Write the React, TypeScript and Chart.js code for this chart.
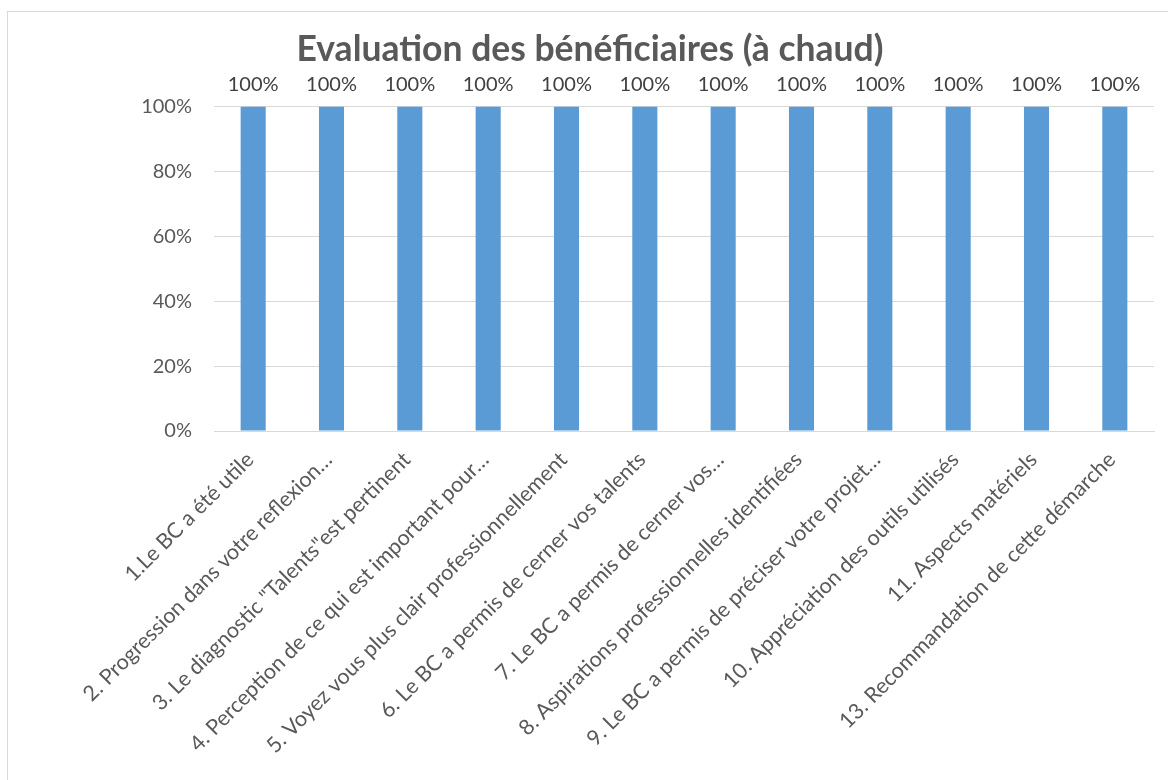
import React, { useEffect, useRef } from "react";
import { Chart, registerables } from "chart.js";

Chart.register(...registerables);

const TITLE = "Evaluation des bénéficiaires (à chaud)";

const categories = [
  "1.Le BC a été utile",
  "2. Progression dans votre reflexion…",
  "3. Le diagnostic \"Talents\"est pertinent",
  "4. Perception de ce qui est important pour…",
  "5. Voyez vous plus clair professionnellement",
  "6. Le BC a permis de cerner vos talents",
  "7. Le BC a permis de cerner vos…",
  "8. Aspirations professionnelles identifiées",
  "9. Le BC a permis de préciser votre projet…",
  "10. Appréciation des outils utilisés",
  "11. Aspects matériels",
  "13. Recommandation de cette démarche",
];

const values = [100, 100, 100, 100, 100, 100, 100, 100, 100, 100, 100, 100];

const FONT = "Lato, 'Open Sans', sans-serif";

const dataLabelPlugin = {
  id: "dataLabels",
  afterDatasetsDraw(chart: any) {
    const ctx = chart.ctx;
    const meta = chart.getDatasetMeta(0);
    const ds = chart.data.datasets[0];
    ctx.save();
    ctx.font = `20px ${FONT}`;
    ctx.fillStyle = "#404040";
    ctx.textAlign = "center";
    ctx.textBaseline = "bottom";
    meta.data.forEach((bar: any, i: number) => {
      ctx.fillText(`${ds.data[i]}%`, bar.x, bar.y - 12);
    });
    ctx.restore();
  },
};

export default function App() {
  const ref = useRef<HTMLCanvasElement | null>(null);

  useEffect(() => {
    if (!ref.current) return;
    const chart = new Chart(ref.current, {
      type: "bar",
      data: {
        labels: categories,
        datasets: [
          {
            data: values,
            backgroundColor: "#5b9bd5",
            categoryPercentage: 1,
            barPercentage: 0.32,
          },
        ],
      },
      options: {
        animation: false,
        responsive: false,
        layout: { padding: { left: 26, right: 14, top: 0, bottom: 0 } },
        plugins: {
          legend: { display: false },
          tooltip: { enabled: false },
          title: {
            display: true,
            text: TITLE,
            color: "#595959",
            font: { family: FONT, size: 35.5, weight: "bold", lineHeight: 1.2 },
            padding: { top: 28, bottom: 36 },
          },
        },
        scales: {
          x: {
            grid: { display: false, drawTicks: false },
            border: { display: true, color: "#d9d9d9", width: 1 },
            ticks: {
              color: "#595959",
              font: { family: FONT, size: 21.5 },
              minRotation: 45,
              maxRotation: 45,
              autoSkip: false,
              padding: 16,
              labelOffset: -3,
            },
            afterFit(scale: any) {
              scale.height = 349;
            },
          },
          y: {
            min: 0,
            max: 100,
            grid: { color: "#d9d9d9", drawTicks: false },
            border: { display: false },
            ticks: {
              stepSize: 20,
              color: "#595959",
              font: { family: FONT, size: 20 },
              padding: 22,
              callback: (v: any) => `${v}%`,
            },
            afterFit(scale: any) {
              scale.width = 188;
            },
          },
        },
      },
      plugins: [dataLabelPlugin],
    });
    return () => chart.destroy();
  }, []);

  return (
    <div style={{ position: "absolute", left: 0, top: 0, width: 1168, height: 780, background: "#fff", overflow: "hidden" }}>
      <div
        style={{
          position: "absolute",
          left: 7,
          top: 11,
          width: 1200,
          height: 800,
          border: "1px solid #d9d9d9",
          boxSizing: "border-box",
        }}
      />
      <canvas ref={ref} width={1168} height={780} style={{ position: "absolute", left: 0, top: 0 }} />
    </div>
  );
}
